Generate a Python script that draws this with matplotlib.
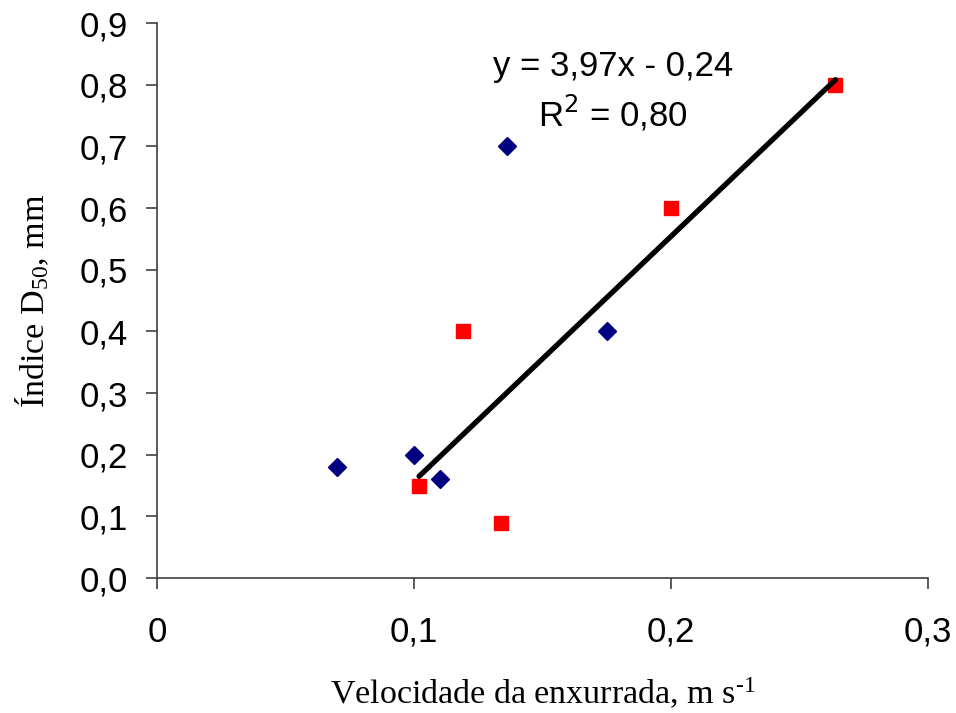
import numpy as np
import matplotlib
matplotlib.use("Agg")
import matplotlib.pyplot as plt

plt.rcParams['font.family'] = ['Liberation Sans', 'DejaVu Sans']
plt.rcParams['mathtext.fontset'] = 'custom'
plt.rcParams['mathtext.rm'] = 'Liberation Serif'
plt.rcParams['mathtext.it'] = 'Liberation Serif:italic'

# data
blue_x = [0.07, 0.10, 0.11, 0.136, 0.175]
blue_y = [0.18, 0.20, 0.16, 0.70, 0.40]
red_x = [0.102, 0.119, 0.134, 0.20, 0.264]
red_y = [0.15, 0.40, 0.09, 0.60, 0.80]
slope, intercept = 3.97, -0.24

x_ticks = [0, 0.1, 0.2, 0.3]
x_labels = ['0', '0,1', '0,2', '0,3']
y_ticks = np.round(np.arange(0, 0.91, 0.1), 1)
y_labels = ['%.1f' % v for v in y_ticks]
y_labels = [s.replace('.', ',') for s in y_labels]

fig = plt.figure(figsize=(9.56, 7.13), dpi=100)
ax = fig.add_axes([0.1642, 0.1893, 0.8065, 0.7784])

ax.plot(blue_x, blue_y, 'D', color='#000080', ms=9.5, ls='none', zorder=3)
ax.plot(red_x, red_y, 's', color='#ff0000', ms=10, ls='none', zorder=3)

xt = np.array([min(red_x), max(red_x)])
ax.plot(xt, slope * xt + intercept, color='black', lw=3.8, zorder=4, solid_capstyle='round')

ax.text(0.1774, 0.83, 'y = 3,97x - 0,24', fontsize=25, ha='center', va='center')
ax.text(0.1774, 0.753, r'R$^2$ = 0,80', fontsize=25, ha='center', va='center',
        math_fontfamily='dejavusans')

ax.set_xlim(0, 0.3)
ax.set_ylim(0, 0.9)
ax.set_xticks(x_ticks)
ax.set_xticklabels(x_labels)
ax.set_yticks(y_ticks)
ax.set_yticklabels(y_labels)

for s in ['top', 'right']:
    ax.spines[s].set_visible(False)
for s in ['left', 'bottom']:
    ax.spines[s].set_color('#404040')
    ax.spines[s].set_linewidth(1.2)
ax.tick_params(axis='both', direction='out', length=8, width=1.2, color='#404040',
               labelsize=25)
ax.tick_params(axis='x', pad=19)
ax.tick_params(axis='y', pad=13)

ax.set_xlabel(r'Velocidade da enxurrada, m s$^{\text{-}1}$', fontsize=24.5,
              family='Liberation Serif', labelpad=20)
ax.set_ylabel(r'Índice D$_{50}$, mm', fontsize=24.5, family='Liberation Serif', labelpad=20)

fig.savefig('out.png', dpi=100)
